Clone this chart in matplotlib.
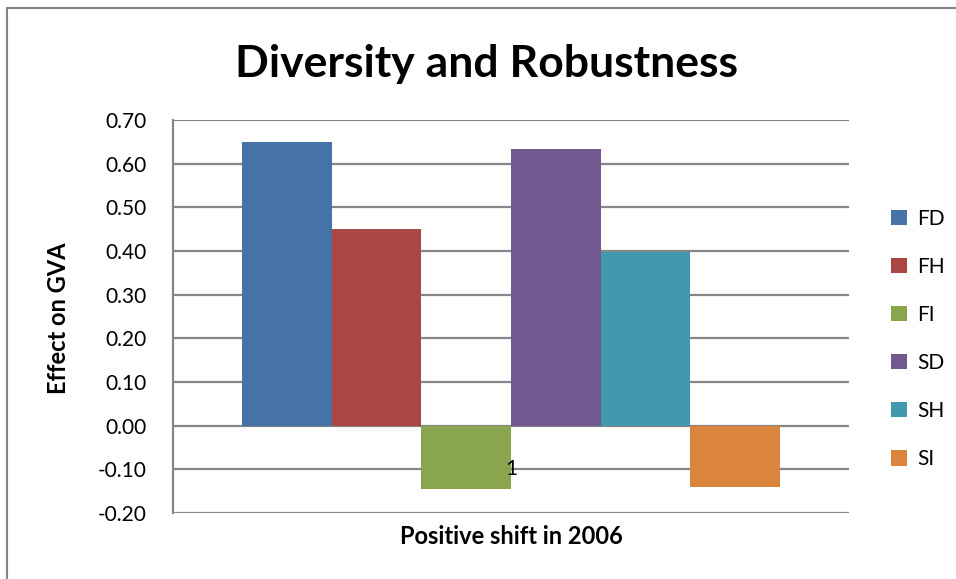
import matplotlib.pyplot as plt
import matplotlib.patches as mpatches
import numpy as np

plt.rcParams['font.family'] = ['Lato', 'DejaVu Sans']

categories = ['1']
series = ['FD', 'FH', 'FI', 'SD', 'SH', 'SI']
values = [0.65, 0.45, -0.145, 0.633, 0.397, -0.14]
colors = ['#4572A7', '#AA4643', '#89A54E', '#71588F', '#4198AF', '#DB843D']
yticks = [-0.2, -0.1, 0.0, 0.1, 0.2, 0.3, 0.4, 0.5, 0.6, 0.7]

fig = plt.figure(figsize=(9.56, 5.79), dpi=100)
ax = fig.add_axes([0.181, 0.114, 0.707, 0.679])

group = 0.796
w = group / len(series)
x = np.arange(len(series)) * w - group / 2 + w / 2
for xi, v, c, name in zip(x, values, colors, series):
    ax.bar(xi, v, width=w, color=c, label=name, zorder=3)

ax.set_xlim(-0.5, 0.5)
ax.set_ylim(-0.2, 0.7)
ax.set_yticks(yticks)
ax.set_yticklabels(['%.2f' % t for t in yticks], fontsize=15)
ax.tick_params(axis='y', length=0, pad=19)
ax.set_xticks([])
ax.grid(axis='y', color='#868686', linewidth=1.6, zorder=1)
for s in ['top', 'right', 'bottom']:
    ax.spines[s].set_visible(False)
ax.spines['left'].set_color('#868686')
ax.spines['left'].set_linewidth(1.6)

# category label sits just under the zero line
ax.annotate(categories[0], xy=(0, 0), xytext=(0, -31), textcoords='offset points',
            ha='center', va='center', fontsize=15, zorder=5)

fig.text(0.509, 0.89, 'Diversity and Robustness', ha='center', va='center',
         fontsize=32, fontweight='bold')
fig.text(0.061, 0.451, 'Effect on GVA', rotation=90, ha='center', va='center',
         fontsize=17, fontweight='bold')
fig.text(0.5345, 0.073, 'Positive shift in 2006', ha='center', va='center',
         fontsize=17, fontweight='bold')

ax.legend(loc='center left', bbox_to_anchor=(1.035, 0.443), frameon=False,
          fontsize=15, handlelength=0.75, handleheight=0.75, handletextpad=0.5,
          labelspacing=1.35)

# chart area border (only the left and top edges show)
fig.patches.append(mpatches.Rectangle((0.0073, -0.1), 1.2, 1.086, transform=fig.transFigure,
                                      fill=False, edgecolor='#868686', linewidth=1.5))

fig.savefig('out.png', dpi=100)
